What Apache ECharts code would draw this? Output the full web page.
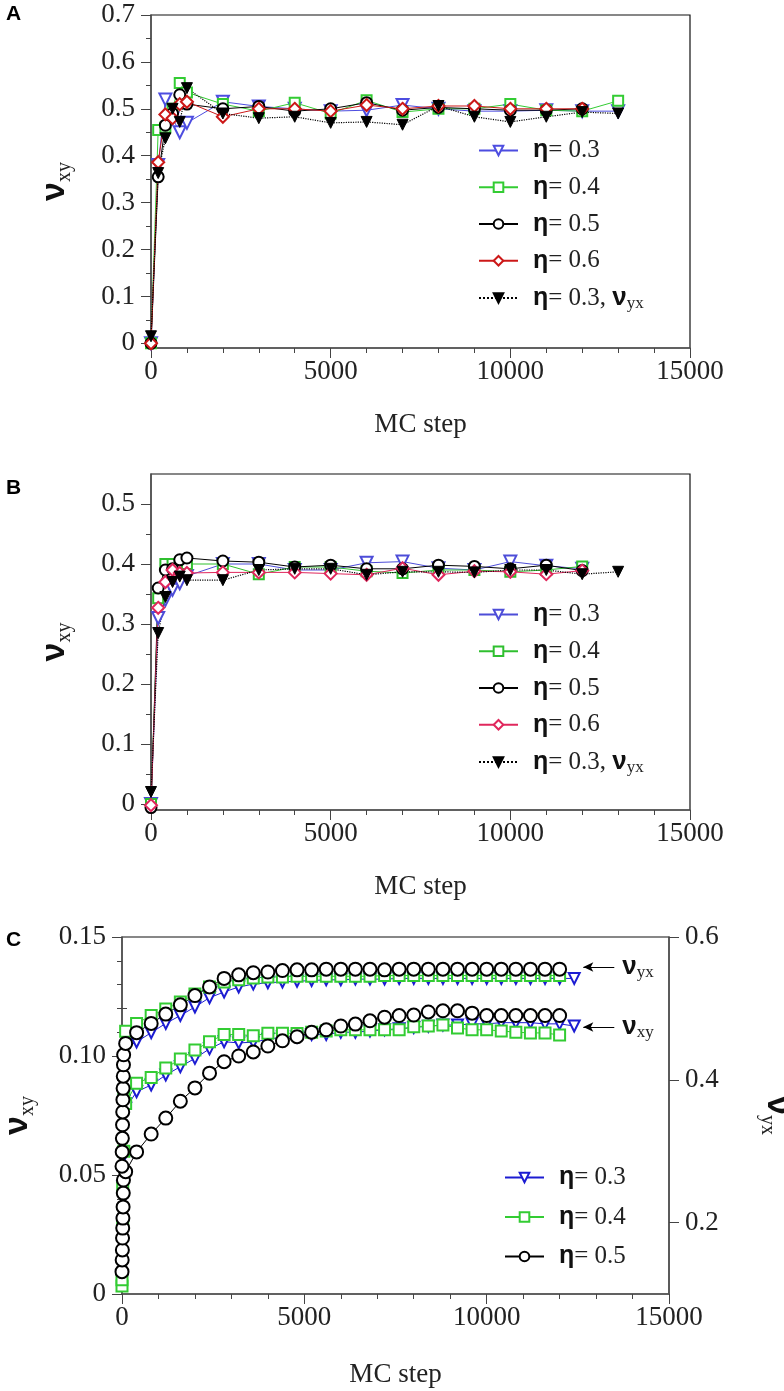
<!DOCTYPE html>
<html><head><meta charset="utf-8">
<script src="https://cdn.jsdelivr.net/npm/echarts@6/dist/echarts.min.js"></script>
<style>html,body{margin:0;padding:0;background:#fff}#c{width:784px;height:1391px}</style>
</head><body><div id="c"></div>
<script>
// ---------------- DATA ----------------
// Panel A
const stepsA = [0,200,400,600,800,1000,2000,3000,4000,5000,6000,7000,8000,9000,10000,11000,12000,13000];
const a03   = [0.0,0.38,0.52,0.48,0.45,0.47,0.515,0.505,0.50,0.495,0.497,0.508,0.50,0.495,0.495,0.497,0.495,0.495];
const a04   = [0.0,0.455,0.46,0.50,0.555,0.535,0.51,0.495,0.513,0.49,0.518,0.493,0.50,0.50,0.51,0.497,0.495,0.517];
const a05   = [0.0,0.355,0.465,0.49,0.53,0.51,0.50,0.505,0.495,0.50,0.513,0.497,0.503,0.50,0.497,0.497,0.50];
const a06   = [0.0,0.386,0.488,0.48,0.51,0.515,0.483,0.50,0.50,0.495,0.508,0.50,0.506,0.506,0.50,0.50,0.50];
const a03yx = [0.015,0.363,0.437,0.50,0.472,0.544,0.49,0.48,0.483,0.47,0.472,0.466,0.506,0.483,0.472,0.483,0.493,0.49];
// Panel B
const stepsB = [0,200,400,600,800,1000,2000,3000,4000,5000,6000,7000,8000,9000,10000,11000,12000,13000];
const b03   = [0.0,0.31,0.34,0.357,0.368,0.38,0.40,0.40,0.39,0.39,0.402,0.404,0.393,0.39,0.404,0.397,0.392];
const b04   = [0.0,0.343,0.40,0.40,0.40,0.40,0.40,0.383,0.395,0.395,0.388,0.385,0.39,0.39,0.387,0.39,0.396];
const b05   = [-0.006,0.36,0.39,0.392,0.407,0.41,0.405,0.403,0.395,0.398,0.392,0.392,0.398,0.396,0.392,0.398,0.389];
const b06   = [-0.002,0.327,0.37,0.39,0.385,0.385,0.386,0.386,0.386,0.384,0.382,0.393,0.382,0.388,0.387,0.383,0.389];
const b03yx = [0.02,0.285,0.345,0.37,0.379,0.373,0.373,0.39,0.392,0.392,0.382,0.387,0.387,0.386,0.39,0.39,0.383,0.387];
// Panel C
const stepsC   = [400,800,1200,1600,2000,2400,2800,3200,3600,4000,4400,4800,5200,5600,6000,6400,6800,7200,7600,8000,8400,8800,9200,9600,10000,10400,10800,11200,11600,12000];
const stepsC03 = [400,800,1200,1600,2000,2400,2800,3200,3600,4000,4400,4800,5200,5600,6000,6400,6800,7200,7600,8000,8400,8800,9200,9600,10000,10400,10800,11200,11600,12000,12400];
const earlyC05xyX = [0,5,10,15,20,25,30,35,40,100];
const earlyC05xy  = [0.0094,0.0143,0.0185,0.0235,0.0277,0.0319,0.0366,0.0424,0.0479,0.0514];
const earlyC05yxX = [0,5,10,15,20,25,30,35,40,45,100];
const earlyC05yx  = [0.279,0.299,0.318,0.337,0.355,0.372,0.388,0.405,0.421,0.435,0.451];
const earlyX      = [0,20,50,100];
const earlyC04xy  = [0.0034,0.03,0.06,0.080];
const earlyC04yx  = [0.12,0.25,0.38,0.468];
const earlyC03xy  = [0.006,0.03,0.058,0.078];
const earlyC03yx  = [0.12,0.25,0.37,0.445];
const c05xy = [0.0597,0.0672,0.0739,0.081,0.0866,0.0928,0.0976,0.100,0.1017,0.1042,0.1064,0.1081,0.110,0.111,0.1126,0.1134,0.1148,0.1163,0.117,0.1172,0.1185,0.119,0.119,0.118,0.117,0.117,0.117,0.117,0.117,0.117];
const c05yx = [0.466,0.479,0.492,0.505,0.518,0.530,0.542,0.547,0.550,0.551,0.553,0.554,0.554,0.555,0.555,0.555,0.555,0.554,0.555,0.555,0.555,0.555,0.555,0.555,0.555,0.555,0.555,0.555,0.555,0.555];
const c04xy = [0.0886,0.091,0.095,0.0987,0.1025,0.106,0.109,0.109,0.1085,0.1096,0.1096,0.1095,0.110,0.1105,0.111,0.111,0.111,0.111,0.111,0.1123,0.1126,0.113,0.1118,0.111,0.111,0.1105,0.110,0.1097,0.1097,0.1088];
const c04yx = [0.479,0.49,0.499,0.509,0.520,0.530,0.537,0.540,0.5425,0.544,0.544,0.545,0.545,0.545,0.545,0.545,0.545,0.546,0.546,0.546,0.546,0.546,0.546,0.546,0.546,0.546,0.546,0.546,0.546,0.546];
const c03xy = [0.085,0.0878,0.092,0.0955,0.099,0.103,0.106,0.1055,0.1058,0.107,0.108,0.108,0.109,0.109,0.110,0.110,0.1105,0.111,0.1115,0.112,0.1125,0.113,0.113,0.1135,0.1135,0.114,0.114,0.114,0.1135,0.1135,0.1126];
const c03yx = [0.453,0.466,0.479,0.49,0.502,0.515,0.523,0.530,0.534,0.536,0.537,0.538,0.539,0.540,0.540,0.541,0.541,0.541,0.542,0.542,0.542,0.542,0.542,0.542,0.542,0.542,0.542,0.542,0.542,0.542,0.542];
// tick labels
const yTicksAB  = [0,0.1,0.2,0.3,0.4,0.5,0.6,0.7];
const yMinorA   = [0.05,0.15,0.25,0.35,0.45,0.55,0.65];
const yTicksB   = [0,0.1,0.2,0.3,0.4,0.5];
const yMinorB   = [0.05,0.15,0.25,0.35,0.45];
const yTicksCR  = [0.2,0.4,0.6];
const yMinorCR  = [0.3,0.5];
const etaLabels = {A03:'0.3',A04:'0.4',A05:'0.5',A06:'0.6',B03:'0.3',B04:'0.4',B05:'0.5',B06:'0.6',C03:'0.3',C04:'0.4',C05:'0.5'};
// annotation arrows (panel C)
const arrowFrom = 13500, arrowTo = 12650, arrowYX = 0.558, arrowXY = 0.1122;

// ---------------- STYLE ----------------
const SERIF = "'Liberation Serif','DejaVu Serif',serif";
const SANS = "'Liberation Sans','DejaVu Sans',sans-serif";
const AXC = '#555', TXT = '#222';
function pairs(xs, ys){ return ys.map((y,i)=>[xs[i], y]); }

const nameRich = {
  nu:{fontFamily:SANS,fontWeight:'bold',fontSize:34,lineHeight:40,color:'#111'},
  sub:{fontFamily:SERIF,fontSize:20,lineHeight:20,verticalAlign:'bottom',color:TXT}
};
const legRich = {
  eta:{fontFamily:SANS,fontWeight:'bold',fontSize:25,lineHeight:28,color:'#111',padding:[0,0,0,10]},
  t:{fontFamily:SERIF,fontSize:25,lineHeight:28,color:TXT},
  nu:{fontFamily:SANS,fontWeight:'bold',fontSize:26,lineHeight:28,color:'#111'},
  sub:{fontFamily:SERIF,fontSize:17,lineHeight:14,verticalAlign:'bottom',color:TXT}
};
function legFmt(n){
  if (n.endsWith('yx')) return '{eta|η}{t|= 0.3, }{nu|ν}{sub|yx}';
  return '{eta|η}{t|= ' + etaLabels[n] + '}';
}

function xAx(g, gap){
  return {type:'value',gridIndex:g,min:0,max:15000,interval:5000,
    axisLine:{onZero:false,lineStyle:{color:AXC,width:1.5}},
    axisTick:{length:10,lineStyle:{color:'#444'}},
    minorTick:{show:true,splitNumber:5,length:5,lineStyle:{color:'#444'}},
    splitLine:{show:false},
    axisLabel:{fontFamily:SERIF,fontSize:27,color:TXT,margin:10,formatter:v=>String(v)},
    name:'MC step',nameLocation:'middle',nameGap:gap,
    nameTextStyle:{fontFamily:SERIF,fontSize:27,color:TXT}};
}
function yMajor(g, min, max, ticks, fmt, nameGap){
  return {type:'value',gridIndex:g,min:min,max:max,position:'left',
    axisLine:{show:true,onZero:false,lineStyle:{color:AXC,width:1.5}},
    axisTick:{show:true,length:10,customValues:ticks,lineStyle:{color:'#444'}},
    axisLabel:{customValues:ticks,formatter:fmt,fontFamily:SERIF,fontSize:27,color:TXT,margin:16},
    splitLine:{show:false},
    name:'{nu|ν}{sub|xy}',nameLocation:'middle',nameRotate:90,nameGap:nameGap,
    nameTextStyle:{rich:nameRich}};
}
function yMinor(g, min, max, ticks, pos){
  return {type:'value',gridIndex:g,min:min,max:max,position:pos||'left',
    axisLine:{show:false},axisTick:{show:true,length:5,customValues:ticks,lineStyle:{color:'#444'}},
    axisLabel:{show:false},splitLine:{show:false}};
}
const f1 = v => v===0 ? '0' : v.toFixed(1);
const f2 = v => v===0 ? '0' : v.toFixed(2);

function ser(name, xi, yi, data, color, symbol, size, opts){
  return Object.assign({type:'line',name:name,xAxisIndex:xi,yAxisIndex:yi,data:data,
    symbol:symbol,symbolSize:size,showAllSymbol:true,
    lineStyle:{color:color,width:1},
    itemStyle:{color:color,borderColor:color,borderWidth:1},
    emphasis:{disabled:true},animation:false}, opts||{});
}
const blueA='#4d4de0', greenA='#33cc33', redA='#cc1818';
const blueB='#4d4dd8', greenB='#2fbf2f', redB='#e0275c';
const blueC='#1c1cd2', greenC='#33cc33';
const dotted = {lineStyle:{color:'#000',width:1.2,type:'dotted'}};

const series = [
  ser('A03',0,0,pairs(stepsA,a03),blueA,'emptyTriangle',12,{symbolRotate:180}),
  ser('A04',0,0,pairs(stepsA,a04),greenA,'emptyRect',10),
  ser('A05',0,0,pairs(stepsA,a05),'#000','emptyCircle',11),
  ser('A06',0,0,pairs(stepsA,a06),redA,'emptyDiamond',12),
  ser('A03yx',0,0,pairs(stepsA,a03yx),'#000','triangle',11,Object.assign({symbolRotate:180},dotted)),
  ser('B03',1,2,pairs(stepsB,b03),blueB,'emptyTriangle',12,{symbolRotate:180}),
  ser('B04',1,2,pairs(stepsB,b04),greenB,'emptyRect',10),
  ser('B05',1,2,pairs(stepsB,b05),'#000','emptyCircle',11),
  ser('B06',1,2,pairs(stepsB,b06),redB,'emptyDiamond',12),
  ser('B03yx',1,2,pairs(stepsB,b03yx),'#000','triangle',11,Object.assign({symbolRotate:180},dotted)),
  ser('C03',2,4,pairs(earlyX,earlyC03xy).concat(pairs(stepsC03,c03xy)),blueC,'emptyTriangle',11,{symbolRotate:180}),
  ser('C03r',2,5,pairs(earlyX,earlyC03yx).concat(pairs(stepsC03,c03yx)),blueC,'emptyTriangle',11,{symbolRotate:180}),
  ser('C04',2,4,pairs(earlyX,earlyC04xy).concat(pairs(stepsC,c04xy)),greenC,'emptyRect',11),
  ser('C04r',2,5,pairs(earlyX,earlyC04yx).concat(pairs(stepsC,c04yx)),greenC,'emptyRect',11),
  ser('C05',2,4,pairs(earlyC05xyX,earlyC05xy).concat(pairs(stepsC,c05xy)),'#000','emptyCircle',13,{
    markLine:{silent:true,animation:false,symbol:['none','arrow'],symbolSize:[7,10],
      lineStyle:{color:'#000',width:1,type:'solid'},
      label:{show:true,position:'start',distance:8,formatter:'{nu|ν}{sub|xy}',rich:legRich},
      data:[[{coord:[arrowFrom,arrowXY]},{coord:[arrowTo,arrowXY]}]]}}),
  ser('C05r',2,5,pairs(earlyC05yxX,earlyC05yx).concat(pairs(stepsC,c05yx)),'#000','emptyCircle',13,{
    markLine:{silent:true,animation:false,symbol:['none','arrow'],symbolSize:[7,10],
      lineStyle:{color:'#000',width:1,type:'solid'},
      label:{show:true,position:'start',distance:8,formatter:'{nu|ν}{sub|yx}',rich:legRich},
      data:[[{coord:[arrowFrom,arrowYX]},{coord:[arrowTo,arrowYX]}]]}})
];

function legend(left, top, gap, names){
  return {orient:'vertical',left:left,top:top,itemWidth:39,itemHeight:12,itemGap:gap,
    data:names,formatter:legFmt,selectedMode:false,textStyle:{rich:legRich,color:TXT}};
}

const gridStyle = {show:true,borderColor:'#111',borderWidth:1.2,containLabel:false,outerBoundsMode:'none'};
const option = {
  animation:false,
  backgroundColor:'#fff',
  grid:[
    Object.assign({left:151,top:15,width:539,height:333},gridStyle),
    Object.assign({left:151,top:474,width:539,height:336},gridStyle),
    Object.assign({left:122,top:937,width:547,height:357},gridStyle)
  ],
  xAxis:[xAx(0,63),xAx(1,63),xAx(2,67)],
  yAxis:[
    yMajor(0,-0.01,0.7,yTicksAB,f1,76),
    yMinor(0,-0.01,0.7,yMinorA),
    yMajor(1,-0.01,0.55,yTicksB,f1,76),
    yMinor(1,-0.01,0.55,yMinorB),
    Object.assign(yMajor(2,0,0.15,null,f2,84),{interval:0.05,
      axisTick:{show:true,length:10,lineStyle:{color:'#444'}},
      axisLabel:{formatter:f2,fontFamily:SERIF,fontSize:27,color:TXT,margin:16},
      minorTick:{show:true,splitNumber:5,length:5,lineStyle:{color:'#444'}}}),
    {type:'value',gridIndex:2,min:0.1,max:0.6,position:'right',
      axisLine:{show:true,onZero:false,lineStyle:{color:AXC,width:1.5}},
      axisTick:{show:true,length:10,customValues:yTicksCR,lineStyle:{color:'#444'}},
      axisLabel:{customValues:yTicksCR,formatter:f1,fontFamily:SERIF,fontSize:27,color:TXT,margin:16},
      splitLine:{show:false},
      name:'{nu|ν}{sub|yx}',nameLocation:'middle',nameRotate:-90,nameGap:88,
      nameTextStyle:{rich:nameRich}},
    yMinor(2,0.1,0.6,yMinorCR,'right')
  ],
  legend:[
    legend(473,133,11.75,['A03','A04','A05','A06','A03yx']),
    legend(473,597,11.75,['B03','B04','B05','B06','B03yx']),
    legend(499,1160,14.5,['C03','C04','C05'])
  ],
  graphic:[
    {type:'text',left:6,top:4,style:{text:'A',font:"bold 21px 'Liberation Sans'",fill:'#000'}},
    {type:'text',left:6,top:478,style:{text:'B',font:"bold 21px 'Liberation Sans'",fill:'#000'}},
    {type:'text',left:6,top:930,style:{text:'C',font:"bold 21px 'Liberation Sans'",fill:'#000'}}
  ],
  series:series
};
const chart = echarts.init(document.getElementById('c'),null,{renderer:'canvas'});
chart.setOption(option);
</script></body></html>
